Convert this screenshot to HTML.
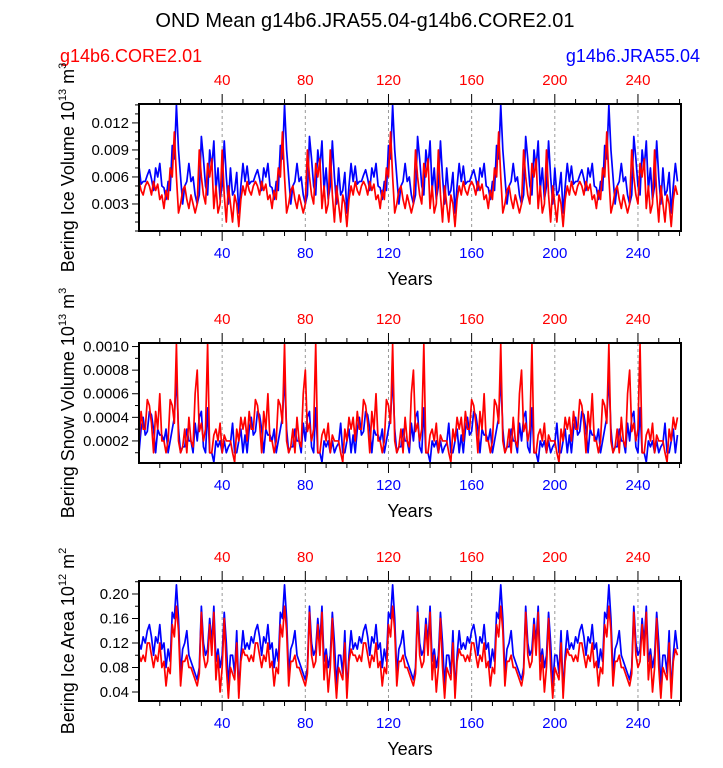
<!DOCTYPE html>
<html><head><meta charset="utf-8"><style>
body{margin:0;background:#fff;width:723px;height:763px;overflow:hidden}
svg text{font-family:"Liberation Sans",Helvetica,sans-serif}
</style></head><body>
<svg id="c" width="723" height="763" xmlns="http://www.w3.org/2000/svg">
<text x="365" y="27" font-size="20" text-anchor="middle">OND Mean g14b6.JRA55.04-g14b6.CORE2.01</text>
<text x="60" y="62" font-size="18" fill="#f00">g14b6.CORE2.01</text>
<text x="700" y="62" font-size="18" fill="#00f" text-anchor="end">g14b6.JRA55.04</text>
</svg>
<script>
const iceVolBlueCycle=[0.0072,0.0052,0.0055,0.0055,0.0062,0.0068,0.0058,0.0045,0.0070,0.0060,0.0075,0.0050,0.0048,0.0035,0.0055,0.0045,0.0095,0.0080,0.0140,0.0090,0.0060,0.0030,0.0050,0.0055,0.0075,0.0055,0.0060,0.0040,0.0030,0.0040,0.0105,0.0080,0.0050,0.0040,0.0090,0.0070,0.0100,0.0045,0.0070,0.0035,0.0050,0.0100,0.0060,0.0030,0.0070,0.0040,0.0045,0.0065,0.0020,0.0050,0.0075,0.0055];
const iceVolRedCycle=[0.0055,0.0045,0.0040,0.0050,0.0055,0.0050,0.0040,0.0055,0.0045,0.0052,0.0035,0.0040,0.0025,0.0045,0.0035,0.0070,0.0060,0.0110,0.0060,0.0020,0.0030,0.0045,0.0050,0.0035,0.0025,0.0040,0.0030,0.0020,0.0030,0.0090,0.0060,0.0040,0.0030,0.0075,0.0060,0.0080,0.0025,0.0050,0.0020,0.0030,0.0090,0.0040,0.0010,0.0050,0.0030,0.0010,0.0040,0.0030,0.0005,0.0035,0.0050,0.0040];
const snowBlueCycle=[0.0001,0.0003,0.0004,0.00025,0.00028,0.00045,0.00042,0.0003,0.0001,0.0003,0.00025,0.00025,0.0002,0.0003,0.0001,0.0002,0.0003,0.0004,0.00075,0.0003,0.0001,0.00015,0.00015,0.0003,0.0002,0.0002,0.0001,0.00035,0.0002,0.0004,0.00045,0.00015,0.0001,0.00048,0.0001,0.0001,0.00002,0.0002,0.00015,0.0002,0.0001,0.0002,0.0001,0.00015,0.00018,0.00035,0.0001,0.0001,0.0002,0.0003,0.0001,0.00025];
const snowRedCycle=[0.0002,0.00045,0.0003,0.0003,0.00055,0.0005,0.00035,0.0001,0.00045,0.0003,0.0006,0.0002,0.0002,0.0001,0.0002,0.00055,0.0005,0.00035,0.00102,0.0002,0.0001,0.00015,0.0003,0.0001,0.0004,0.0002,0.00015,0.0006,0.0008,0.00028,0.00035,0.0002,0.0003,0.00102,0.0001,0.0001,0.00025,0.0003,0.0002,0.00035,0.0001,0.00025,0.0002,0.0002,0.0002,0.0001,0.00002,0.0003,0.0002,0.0004,0.0003,0.0004];
const areaBlueCycle=[0.12,0.11,0.13,0.12,0.14,0.15,0.13,0.10,0.13,0.12,0.15,0.11,0.12,0.08,0.11,0.09,0.17,0.16,0.215,0.16,0.07,0.11,0.12,0.14,0.10,0.09,0.08,0.07,0.06,0.08,0.18,0.12,0.10,0.11,0.16,0.12,0.18,0.09,0.11,0.08,0.10,0.17,0.12,0.05,0.10,0.10,0.07,0.14,0.04,0.10,0.14,0.11];
const areaRedCycle=[0.10,0.09,0.10,0.09,0.12,0.12,0.10,0.08,0.10,0.09,0.12,0.08,0.09,0.05,0.08,0.07,0.15,0.13,0.18,0.14,0.05,0.09,0.09,0.10,0.08,0.08,0.07,0.06,0.05,0.07,0.17,0.10,0.08,0.09,0.15,0.10,0.17,0.06,0.10,0.04,0.08,0.16,0.08,0.03,0.08,0.07,0.06,0.12,0.03,0.09,0.11,0.10];
const iceVolBlue=[...iceVolBlueCycle,...iceVolBlueCycle,...iceVolBlueCycle,...iceVolBlueCycle,...iceVolBlueCycle];
const iceVolRed=[...iceVolRedCycle,...iceVolRedCycle,...iceVolRedCycle,...iceVolRedCycle,...iceVolRedCycle];
const snowBlue=[...snowBlueCycle,...snowBlueCycle,...snowBlueCycle,...snowBlueCycle,...snowBlueCycle];
const snowRed=[...snowRedCycle,...snowRedCycle,...snowRedCycle,...snowRedCycle,...snowRedCycle];
const areaBlue=[...areaBlueCycle,...areaBlueCycle,...areaBlueCycle,...areaBlueCycle,...areaBlueCycle];
const areaRed=[...areaRedCycle,...areaRedCycle,...areaRedCycle,...areaRedCycle,...areaRedCycle];
const xTicks=[40,80,120,160,200,240];
const iceVolTicks=[0.003,0.006,0.009,0.012];
const snowTicks=[0.0002,0.0004,0.0006,0.0008,0.0010];
const areaTicks=[0.04,0.08,0.12,0.16,0.20];

const NS="http://www.w3.org/2000/svg";
const svg=document.getElementById('c');
function mk(tag,attrs,parent){const e=document.createElementNS(NS,tag);for(const k in attrs)e.setAttribute(k,attrs[k]);(parent||svg).appendChild(e);return e;}
const X0=139,X1=681,XMIN=0,XMAX=260.7;
function xs(v){return X0+(v-XMIN)/(XMAX-XMIN)*(X1-X0);}

function panel(id,top,bot,ymin,ymax,ticks,dec,minorStep,blue,red,title,exp,unitExp){
  const g=mk('g',{});
  
  
  const ys=v=>bot-(v-ymin)/(ymax-ymin)*(bot-top);
  xTicks.forEach(t=>{const l=mk('line',{x1:xs(t),x2:xs(t),y1:top,y2:bot,stroke:'#999','stroke-dasharray':'3,3','stroke-width':1},g);
    });
  [[blue,'#00f','jra'],[red,'#f00','core']].forEach(([arr,col,nm])=>{
    const p=mk('polyline',{fill:'none',stroke:col,'stroke-width':1.7,'stroke-linejoin':'round',points:arr.map((v,i)=>xs(i)+','+ys(Math.min(Math.max(v,ymin),ymax))).join(' ')},g);
    
  });
  const fr=mk('rect',{x:X0,y:top,width:X1-X0,height:bot-top,fill:'none',stroke:'#000','stroke-width':2},g);
  
  for(let t=10;t<=260;t+=10){const maj=t%40===0;const L=maj?10:5;
    mk('line',{x1:xs(t),x2:xs(t),y1:top,y2:top-L,stroke:'#000','stroke-width':1},g);
    mk('line',{x1:xs(t),x2:xs(t),y1:bot,y2:bot+L,stroke:'#000','stroke-width':1},g);}
  xTicks.forEach(t=>{
    const a=mk('text',{x:xs(t),y:top-19,'font-size':15,fill:'#f00','text-anchor':'middle'},g);a.textContent=t;
    
    const b=mk('text',{x:xs(t),y:bot+27,'font-size':15,fill:'#00f','text-anchor':'middle'},g);b.textContent=t;
    
  });
  for(let v=Math.ceil(ymin/minorStep)*minorStep;v<=ymax+1e-12;v+=minorStep){
    const maj=ticks.some(t=>Math.abs(t-v)<minorStep/10);
    mk('line',{x1:X0,x2:X0-(maj?7:4),y1:ys(v),y2:ys(v),stroke:'#000','stroke-width':1},g);}
  ticks.forEach(t=>{const e=mk('text',{x:X0-10,y:ys(t)+5,'font-size':15,'text-anchor':'end'},g);e.textContent=t.toFixed(dec);
    });
  const xt=mk('text',{x:410,y:bot+54,'font-size':18,'text-anchor':'middle'},g);xt.textContent='Years';
  
  const yt=mk('text',{transform:`translate(74,${(top+bot)/2}) rotate(-90)`,'font-size':18,'text-anchor':'middle'},g);
  
  yt.appendChild(document.createTextNode(title+' 10'));
  const s=mk('tspan',{'font-size':11,dy:-8},yt);s.textContent=exp;
  const m=mk('tspan',{dy:8},yt);m.textContent=' m';
  const s2=mk('tspan',{'font-size':11,dy:-8},yt);s2.textContent=unitExp;
}
panel('ice-volume',104,231,0,0.0141,iceVolTicks,3,0.001,iceVolBlue,iceVolRed,'Bering Ice Volume','13','3');
panel('snow-volume',343,463,0.000013,0.00103,snowTicks,4,0.0001,snowBlue,snowRed,'Bering Snow Volume','13','3');
panel('ice-area',581,701,0.0253,0.2212,areaTicks,2,0.02,areaBlue,areaRed,'Bering Ice Area','12','2');
</script>
</body></html>
